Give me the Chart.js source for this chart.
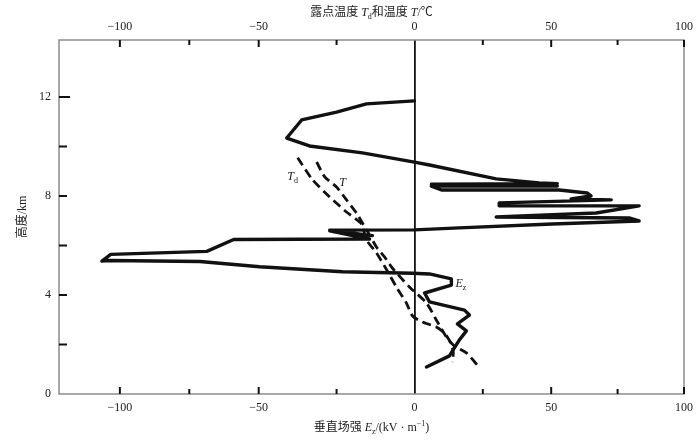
<!DOCTYPE html>
<html>
<head>
<meta charset="utf-8">
<script src="https://cdn.jsdelivr.net/npm/chart.js@4/dist/chart.umd.min.js"></script>
<style>
  html, body { margin: 0; padding: 0; background: #fff; }
  canvas { display: block; }
</style>
</head>
<body>
<canvas id="c" width="700" height="441"></canvas>
<script>
// ---------------- data ----------------
// Vertical electric field Ez (kV/m) sounding, in path order
const ezField  = [4.4, 12.8, 14.6, 16.4, 19.0, 15.7, 20.1, 18.3, 5.5, 3.7, 13.5, 13.5, 5.5, -0.6, -23.1, -49.7, -71.2, -103.6, -106.5, -103.3, -68.7, -59.0, -14.4, -27.2, -13.5, -27.2, 0, 16.4, 50.4, 83.1, 79.3, 29.9, 66.9, 83.1, 31.0, 31.0, 72.6, 57.5, 65.0, 63.5, 53.0, 9.9, 6.2, 52.3, 6.2, 52.3, 45.6, 29.9, 5.5, 0, -16.7, -33.7, -41.0, -36.2, -25.0, -15.4, 0];
const ezHeight = [1.09, 1.54, 1.86, 2.18, 2.55, 2.83, 3.19, 3.39, 3.72, 4.08, 4.40, 4.65, 4.85, 4.88, 4.94, 5.14, 5.35, 5.39, 5.37, 5.64, 5.76, 6.24, 6.26, 6.59, 6.40, 6.62, 6.63, 6.71, 6.87, 6.99, 7.11, 7.15, 7.31, 7.60, 7.60, 7.72, 7.84, 7.88, 8.00, 8.12, 8.24, 8.24, 8.40, 8.40, 8.47, 8.50, 8.53, 8.69, 9.25, 9.37, 9.74, 10.02, 10.34, 11.07, 11.39, 11.72, 11.84];

// Dew point Td (°C)
const tdTemp   = [-37.5, -32.7, -27.2, -21.8, -17.0, -15.4, -12.2, -8.7, -5.8, -2.6, -0.6, 2.9, 8.0, 11.0, 13.1, 14.2, 13.9];
const tdHeight = [9.54, 8.65, 7.96, 7.35, 6.87, 6.22, 5.70, 4.97, 4.32, 3.68, 3.15, 2.91, 2.71, 2.46, 2.10, 1.70, 1.29];

// Temperature T (°C)
const tTemp    = [-31.4, -28.8, -25.0, -21.8, -18.6, -16.7, -14.4, -12.2, -9.6, -7.1, -1.6, 4.4, 8.0, 11.7, 14.6, 19.0, 23.0];
const tHeight  = [9.37, 8.77, 8.36, 7.84, 7.31, 6.91, 6.42, 5.94, 5.54, 5.09, 4.32, 3.68, 2.99, 2.30, 1.94, 1.66, 1.17];

// Tick values
const xTickValues = [-100, -75, -50, -25, 0, 25, 50, 75, 100];
const xLabelled   = [-100, -50, 0, 50, 100];
const yTickValues = [0, 2, 4, 6, 8, 10, 12];
const yLabelled   = [0, 4, 8, 12];

// ---------------- scale: piecewise linear (the printed axis is not evenly spaced) ----------------
const KNOT_VALUES    = [-122, -100, -50, 0, 50, 100];
const KNOT_FRACTIONS = [0, 0.0974, 0.3195, 0.5687, 0.7875, 1];

class PiecewiseScale extends Chart.LinearScale {
  getPixelForValue(value) {
    if (value === null || value === undefined || isNaN(value)) return NaN;
    const kv = KNOT_VALUES, kf = KNOT_FRACTIONS;
    let i = 0;
    while (i < kv.length - 2 && value > kv[i + 1]) i++;
    const f = kf[i] + (value - kv[i]) / (kv[i + 1] - kv[i]) * (kf[i + 1] - kf[i]);
    return this.getPixelForDecimal(f);
  }
  getValueForPixel(pixel) {
    const f = this.getDecimalForPixel(pixel);
    const kv = KNOT_VALUES, kf = KNOT_FRACTIONS;
    let i = 0;
    while (i < kf.length - 2 && f > kf[i + 1]) i++;
    return kv[i] + (f - kf[i]) / (kf[i + 1] - kf[i]) * (kv[i + 1] - kv[i]);
  }
}
PiecewiseScale.id = 'piecewise';
PiecewiseScale.defaults = Chart.LinearScale.defaults;
Chart.register(PiecewiseScale);

// ---------------- helpers ----------------
const SERIF = '"Liberation Serif", "Noto Sans CJK SC", serif';
const pts = (xs, ys) => xs.map((v, i) => ({ x: v, y: ys[i] }));
const fmt = v => (v < 0 ? '\u2212' + Math.abs(v) : String(v));

function drawRich(ctx, parts, cx, baseline) {
  let total = 0;
  parts.forEach(p => { ctx.font = p.font; p.w = ctx.measureText(p.t).width; total += p.w; });
  let x = cx - total / 2;
  ctx.textAlign = 'left';
  ctx.textBaseline = 'alphabetic';
  parts.forEach(p => { ctx.font = p.font; ctx.fillText(p.t, x, baseline + (p.dy || 0)); x += p.w; });
}
const F_N  = '12px ' + SERIF;
const F_I  = 'italic 12px "Liberation Serif", serif';
const F_S  = '8px "Liberation Serif", serif';

// ---------------- frame, inward tick marks and rich-text titles ----------------
const decorPlugin = {
  id: 'decor',
  afterDatasetsDraw(chart) {
    const ctx = chart.ctx, a = chart.chartArea;
    ctx.save();
    // frame
    ctx.strokeStyle = '#8c8c8c';
    ctx.lineWidth = 1.5;
    ctx.strokeRect(a.left, a.top, a.right - a.left, a.bottom - a.top);
    // inward ticks
    ctx.strokeStyle = '#111';
    ctx.lineWidth = 2;
    ctx.beginPath();
    ['x', 'x2'].forEach(id => {
      const s = chart.scales[id];
      s.ticks.forEach(t => {
        if (t.value === 0) return;
        const px = s.getPixelForValue(t.value);
        const len = xLabelled.includes(t.value) ? 7 : 5;
        if (id === 'x') { ctx.moveTo(px, a.bottom); ctx.lineTo(px, a.bottom - len); }
        else { ctx.moveTo(px, a.top); ctx.lineTo(px, a.top + len); }
      });
    });
    const ys = chart.scales.y;
    ys.ticks.forEach(t => {
      if (t.value === 0) return;
      const py = ys.getPixelForValue(t.value);
      ctx.moveTo(a.left, py); ctx.lineTo(a.left + (t.value === 12 ? 11 : 8), py);
    });
    ctx.stroke();

    ctx.fillStyle = '#222';
    const cx = (a.left + a.right) / 2;
    // top axis title
    drawRich(ctx, [
      { t: '露点温度 ', font: F_N },
      { t: 'T', font: F_I },
      { t: 'd', font: F_S, dy: 3 },
      { t: '和温度 ', font: F_N },
      { t: 'T', font: F_I },
      { t: '/℃', font: F_N }
    ], cx, chart.scales.x2.top + 16);
    // bottom axis title
    drawRich(ctx, [
      { t: '垂直场强 ', font: F_N },
      { t: 'E', font: F_I },
      { t: 'z', font: F_S, dy: 3 },
      { t: '/(kV · m', font: F_N },
      { t: '\u22121', font: F_S, dy: -5 },
      { t: ')', font: F_N }
    ], cx, chart.scales.x.bottom - 10);

    // curve labels, anchored in data units
    const lab = (scaleId, xv, yv, parts) => {
      const px = chart.scales[scaleId].getPixelForValue(xv);
      const py = chart.scales.y.getPixelForValue(yv);
      drawRich(ctx, parts, px, py + 4);
    };
    lab('x2', -39.1, 8.8, [{ t: 'T', font: F_I }, { t: 'd', font: F_S, dy: 3 }]);
    lab('x2', -23.1, 8.57, [{ t: 'T', font: F_I }]);
    lab('x', 17.0, 4.48, [{ t: 'E', font: F_I }, { t: 'z', font: F_S, dy: 3 }]);
    ctx.restore();
  }
};

// ---------------- chart ----------------
const xTickCfg = {
  color: '#222',
  font: { family: SERIF, size: 12 },
  autoSkip: false,
  maxRotation: 0,
  callback: v => (xLabelled.includes(v) ? fmt(v) : '')
};

new Chart(document.getElementById('c'), {
  type: 'scatter',
  data: {
    datasets: [
      {
        label: 'Ez',
        data: pts(ezField, ezHeight),
        xAxisID: 'x', yAxisID: 'y',
        showLine: true,
        borderColor: '#111',
        borderWidth: 3.4,
        borderJoinStyle: 'round',
        borderCapStyle: 'round',
        pointRadius: 0,
        tension: 0
      },
      {
        label: 'Td',
        data: pts(tdTemp, tdHeight),
        xAxisID: 'x2', yAxisID: 'y',
        showLine: true,
        borderColor: '#111',
        borderWidth: 2.8,
        borderDash: [9, 5],
        pointRadius: 0,
        tension: 0.2
      },
      {
        label: 'T',
        data: pts(tTemp, tHeight),
        xAxisID: 'x2', yAxisID: 'y',
        showLine: true,
        borderColor: '#111',
        borderWidth: 2.8,
        borderDash: [9, 5],
        pointRadius: 0,
        tension: 0.2
      }
    ]
  },
  options: {
    responsive: false,
    devicePixelRatio: 1,
    animation: false,
    layout: { padding: { left: 0, right: 15, top: 0, bottom: 0 } },
    plugins: { legend: { display: false }, tooltip: { enabled: false } },
    scales: {
      x: {
        type: 'piecewise',
        position: 'bottom',
        min: -122, max: 100,
        afterBuildTicks: s => { s.ticks = xTickValues.map(v => ({ value: v })); },
        afterFit: s => { s.height = 47; },
        border: { display: false },
        grid: {
          drawOnChartArea: true,
          drawTicks: false,
          lineWidth: 1.8,
          color: c => (c.tick && c.tick.value === 0 ? '#111' : 'rgba(0,0,0,0)')
        },
        ticks: Object.assign({ padding: 7 }, xTickCfg)
      },
      x2: {
        type: 'piecewise',
        position: 'top',
        min: -122, max: 100,
        afterBuildTicks: s => { s.ticks = xTickValues.map(v => ({ value: v })); },
        afterFit: s => { s.height = 40; },
        border: { display: false },
        grid: { drawOnChartArea: false, drawTicks: false },
        ticks: Object.assign({ padding: 6 }, xTickCfg)
      },
      y: {
        type: 'linear',
        position: 'left',
        min: 0, max: 14.3,
        afterBuildTicks: s => { s.ticks = yTickValues.map(v => ({ value: v })); },
        afterFit: s => { s.width = 59; },
        border: { display: false },
        grid: { drawOnChartArea: false, drawTicks: false },
        ticks: {
          padding: 8,
          color: '#222',
          font: { family: SERIF, size: 12 },
          autoSkip: false,
          callback: v => (yLabelled.includes(v) ? fmt(v) : '')
        },
        title: {
          display: true,
          text: '高度/km',
          color: '#222',
          font: { family: SERIF, size: 12 },
          padding: { top: 16, bottom: 0 }
        }
      }
    }
  },
  plugins: [decorPlugin]
});
</script>
</body>
</html>
